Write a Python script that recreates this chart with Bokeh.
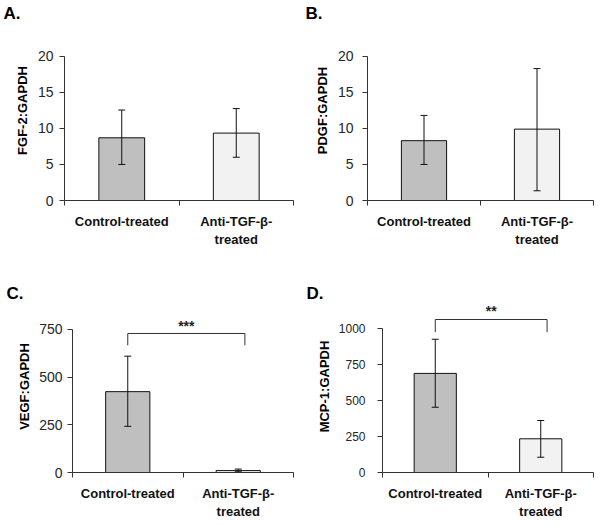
from bokeh.plotting import figure
from bokeh.models import Range1d, FixedTicker, Whisker, TeeHead, ColumnDataSource
from bokeh.layouts import column, row
from bokeh.embed import file_html
from bokeh.resources import INLINE
from bokeh.core.properties import value

# ---- data ----
categories = ["Control-treated", "Anti-TGF-\u03b2-\ntreated"]
bar_colors = ["#BFBFBF", "#F2F2F2"]

panel_letters = ["A.", "B.", "C.", "D."]
y_titles = ["FGF-2:GAPDH", "PDGF:GAPDH", "VEGF:GAPDH", "MCP-1:GAPDH"]
y_ticks_a = [0, 5, 10, 15, 20]
y_ticks_b = [0, 5, 10, 15, 20]
y_ticks_c = [0, 250, 500, 750]
y_ticks_d = [0, 250, 500, 750, 1000]

fgf2_mean = [8.7, 9.35]
fgf2_low = [5.0, 6.0]
fgf2_high = [12.55, 12.75]

pdgf_mean = [8.3, 9.9]
pdgf_low = [5.0, 1.35]
pdgf_high = [11.8, 18.3]

vegf_mean = [424, 10]
vegf_low = [242, 4]
vegf_high = [610, 18]

mcp1_mean = [688, 234]
mcp1_low = [453, 106]
mcp1_high = [925, 361]

# significance brackets: [end height, top height]
vegf_bracket = [667, 729]
vegf_stars = "***"
vegf_star_y = 768
mcp1_bracket = [974, 1062]
mcp1_stars = "**"
mcp1_star_y = 1121
bracket_x = [0.5, 1.56]

FONT = "Liberation Sans"
AXIS_COL = "#333333"
LABEL_COL = "#262626"


def make_panel(letter, ytitle, means, lows, highs, yticks, width, height,
               border_left, border_top, border_bottom, border_right,
               y_top, letter_offset, title_standoff, label_standoff,
               tick_font="14px", bracket=None, stars=None, star_y=None):
    p = figure(width=width, height=height, output_backend="svg",
               toolbar_location=None, x_range=Range1d(0, 2),
               y_range=Range1d(0, y_top),
               min_border_left=border_left, min_border_top=border_top,
               min_border_bottom=border_bottom, min_border_right=border_right)
    p.outline_line_color = None
    p.xgrid.visible = False
    p.ygrid.visible = False
    p.background_fill_color = "white"
    p.border_fill_color = "white"

    # panel letter as title
    p.title.text = letter
    p.title.align = "left"
    p.title.vertical_align = "bottom"
    p.title.offset = letter_offset
    p.title.standoff = -5
    p.title.text_font = FONT
    p.title.text_font_size = "17px"
    p.title.text_font_style = "bold"
    p.title.text_color = "black"

    centers = [0.5 + i for i in range(len(categories))]
    src = ColumnDataSource(dict(x=centers, top=means, low=lows, high=highs,
                                color=bar_colors))
    p.vbar(x="x", top="top", bottom=0, width=0.4, source=src,
           fill_color="color", line_color="#111111", line_width=1)

    w = Whisker(source=src, base="x", upper="high", lower="low",
                dimension="height", line_color="#111111", line_width=1,
                level="annotation",
                upper_head=TeeHead(size=7, line_color="#111111", line_width=1),
                lower_head=TeeHead(size=7, line_color="#111111", line_width=1))
    p.add_layout(w)

    if bracket is not None:
        p.line(x=[bracket_x[0], bracket_x[0], bracket_x[1], bracket_x[1]],
               y=[bracket[0], bracket[1], bracket[1], bracket[0]],
               line_color="#333333", line_width=1)
        p.text(x=[(bracket_x[0] + bracket_x[1]) / 2], y=[star_y], text=[stars],
               text_font=value(FONT), text_font_size="14px",
               text_font_style="bold", text_color="#222222",
               text_align="center", text_baseline="middle")

    # y axis (axis line limited to the tick span)
    ya = p.yaxis[0]
    ya.ticker = FixedTicker(ticks=yticks)
    ya.bounds = (yticks[0], yticks[-1])
    ya.axis_label = ytitle
    ya.axis_label_text_font = FONT
    ya.axis_label_text_font_style = "bold"
    ya.axis_label_text_font_size = "13px"
    ya.axis_label_text_color = "black"
    ya.axis_label_standoff = title_standoff
    ya.major_label_text_font = FONT
    ya.major_label_text_font_size = tick_font
    ya.major_label_text_color = LABEL_COL
    ya.major_label_standoff = label_standoff
    ya.major_tick_out = 5
    ya.major_tick_in = 0
    ya.minor_tick_out = 0
    ya.minor_tick_in = 0
    ya.axis_line_color = AXIS_COL
    ya.major_tick_line_color = AXIS_COL

    # x axis
    xa = p.xaxis[0]
    xa.ticker = FixedTicker(ticks=centers, minor_ticks=[0, 1, 2])
    xa.major_label_overrides = {c: lab for c, lab in zip(centers, categories)}
    xa.major_label_text_font = FONT
    xa.major_label_text_font_style = "bold"
    xa.major_label_text_font_size = "13px"
    xa.major_label_text_color = "#111111"
    xa.major_label_standoff = 8
    xa.major_tick_out = 0
    xa.major_tick_in = 0
    xa.minor_tick_out = 5
    xa.minor_tick_in = 0
    xa.axis_line_color = AXIS_COL
    xa.minor_tick_line_color = AXIS_COL
    return p


pA = make_panel(panel_letters[0], y_titles[0], fgf2_mean, fgf2_low, fgf2_high,
                y_ticks_a, 300, 281, 64, 20, 81, 7, 24.97, -61, 5, 6)
pB = make_panel(panel_letters[1], y_titles[1], pdgf_mean, pdgf_low, pdgf_high,
                y_ticks_b, 300, 281, 67, 20, 81, 7, 24.97, -62, 5, 9)
pC = make_panel(panel_letters[2], y_titles[2], vegf_mean, vegf_low, vegf_high,
                y_ticks_c, 300, 244, 72, 19, 53, 7, 902, -66, 4, 5,
                bracket=vegf_bracket, stars=vegf_stars, star_y=vegf_star_y)
pD = make_panel(panel_letters[3], y_titles[3], mcp1_mean, mcp1_low, mcp1_high,
                y_ticks_d, 300, 244, 82, 19, 53, 7, 1194, -76, 4, 12,
                tick_font="12px",
                bracket=mcp1_bracket, stars=mcp1_stars, star_y=mcp1_star_y)

layout = column(row(pA, pB), row(pC, pD))

open("out.html", "w").write(file_html(layout, INLINE))
